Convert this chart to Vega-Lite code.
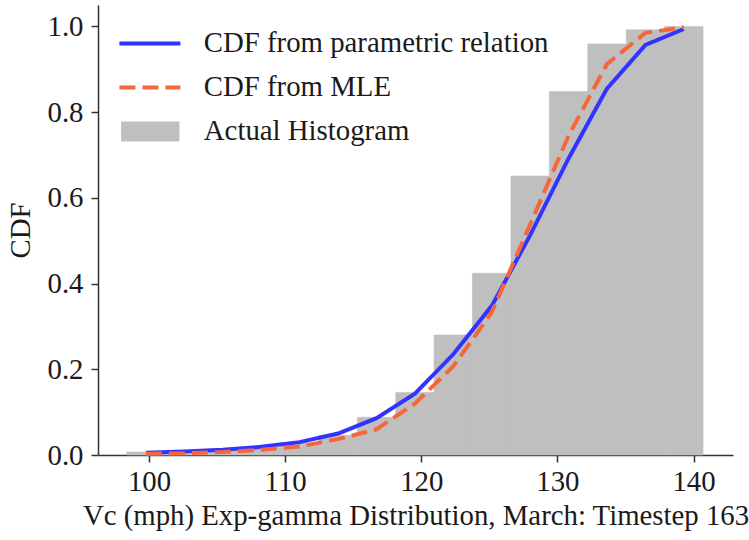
{
  "$schema": "https://vega.github.io/schema/vega-lite/v6.json",
  "width": 635,
  "height": 450,
  "autosize": {"type": "none"},
  "padding": {"left": 98, "top": 5, "right": 16, "bottom": 85},
  "background": "white",
  "config": {
    "view": {"stroke": null},
    "font": "Liberation Serif",
    "axis": {
      "grid": false,
      "domainColor": "#333333",
      "domainWidth": 1.5,
      "tickColor": "#333333",
      "tickWidth": 1.5,
      "tickSize": 7,
      "labelFont": "Liberation Serif",
      "labelFontSize": 28.8,
      "labelColor": "#1a1a1a",
      "titleFont": "Liberation Serif",
      "titleFontSize": 28.8,
      "titleFontWeight": "normal",
      "titleColor": "#1a1a1a"
    },
    "legend": {
      "labelFont": "Liberation Serif",
      "labelFontSize": 28.8,
      "labelColor": "#1a1a1a",
      "labelLimit": 0
    }
  },
  "datasets": {
    "hist": [
      {"start": 98.36, "end": 101.18, "cdf": 0.007, "series": "Actual Histogram"},
      {"start": 101.18, "end": 104.01, "cdf": 0.010, "series": "Actual Histogram"},
      {"start": 104.01, "end": 106.83, "cdf": 0.013, "series": "Actual Histogram"},
      {"start": 106.83, "end": 109.65, "cdf": 0.018, "series": "Actual Histogram"},
      {"start": 109.65, "end": 112.47, "cdf": 0.028, "series": "Actual Histogram"},
      {"start": 112.47, "end": 115.30, "cdf": 0.046, "series": "Actual Histogram"},
      {"start": 115.30, "end": 118.12, "cdf": 0.088, "series": "Actual Histogram"},
      {"start": 118.12, "end": 120.94, "cdf": 0.146, "series": "Actual Histogram"},
      {"start": 120.94, "end": 123.76, "cdf": 0.280, "series": "Actual Histogram"},
      {"start": 123.76, "end": 126.59, "cdf": 0.424, "series": "Actual Histogram"},
      {"start": 126.59, "end": 129.41, "cdf": 0.651, "series": "Actual Histogram"},
      {"start": 129.41, "end": 132.23, "cdf": 0.848, "series": "Actual Histogram"},
      {"start": 132.23, "end": 135.06, "cdf": 0.959, "series": "Actual Histogram"},
      {"start": 135.06, "end": 137.88, "cdf": 0.992, "series": "Actual Histogram"},
      {"start": 137.88, "end": 140.70, "cdf": 1.000, "series": "Actual Histogram"}
    ],
    "lines": [
      {"x": 99.77, "cdf": 0.005, "series": "CDF from parametric relation"},
      {"x": 102.60, "cdf": 0.008, "series": "CDF from parametric relation"},
      {"x": 105.42, "cdf": 0.012, "series": "CDF from parametric relation"},
      {"x": 108.24, "cdf": 0.019, "series": "CDF from parametric relation"},
      {"x": 111.06, "cdf": 0.030, "series": "CDF from parametric relation"},
      {"x": 113.89, "cdf": 0.050, "series": "CDF from parametric relation"},
      {"x": 116.71, "cdf": 0.086, "series": "CDF from parametric relation"},
      {"x": 119.53, "cdf": 0.143, "series": "CDF from parametric relation"},
      {"x": 122.35, "cdf": 0.235, "series": "CDF from parametric relation"},
      {"x": 125.18, "cdf": 0.348, "series": "CDF from parametric relation"},
      {"x": 128.00, "cdf": 0.513, "series": "CDF from parametric relation"},
      {"x": 130.82, "cdf": 0.692, "series": "CDF from parametric relation"},
      {"x": 133.64, "cdf": 0.855, "series": "CDF from parametric relation"},
      {"x": 136.47, "cdf": 0.957, "series": "CDF from parametric relation"},
      {"x": 139.29, "cdf": 0.994, "series": "CDF from parametric relation"},
      {"x": 99.77, "cdf": 0.003, "series": "CDF from MLE"},
      {"x": 102.60, "cdf": 0.004, "series": "CDF from MLE"},
      {"x": 105.42, "cdf": 0.007, "series": "CDF from MLE"},
      {"x": 108.24, "cdf": 0.012, "series": "CDF from MLE"},
      {"x": 111.06, "cdf": 0.020, "series": "CDF from MLE"},
      {"x": 113.89, "cdf": 0.037, "series": "CDF from MLE"},
      {"x": 116.71, "cdf": 0.060, "series": "CDF from MLE"},
      {"x": 119.53, "cdf": 0.120, "series": "CDF from MLE"},
      {"x": 122.35, "cdf": 0.207, "series": "CDF from MLE"},
      {"x": 125.18, "cdf": 0.333, "series": "CDF from MLE"},
      {"x": 128.00, "cdf": 0.538, "series": "CDF from MLE"},
      {"x": 130.82, "cdf": 0.745, "series": "CDF from MLE"},
      {"x": 133.64, "cdf": 0.912, "series": "CDF from MLE"},
      {"x": 136.47, "cdf": 0.985, "series": "CDF from MLE"},
      {"x": 139.29, "cdf": 0.998, "series": "CDF from MLE"}
    ]
  },
  "encoding": {
    "x": {
      "type": "quantitative",
      "scale": {"domain": [96.25, 142.9], "nice": false, "zero": false},
      "axis": {
        "title": "Vc (mph) Exp-gamma Distribution, March: Timestep 163",
        "values": [100, 110, 120, 130, 140],
        "labelPadding": 5,
        "titlePadding": 6
      }
    },
    "y": {
      "type": "quantitative",
      "scale": {"domain": [0, 1.05], "nice": false},
      "axis": {
        "title": "CDF",
        "values": [0, 0.2, 0.4, 0.6, 0.8, 1.0],
        "format": ".1f",
        "labelPadding": 8,
        "titlePadding": 12
      }
    },
    "color": {
      "field": "series",
      "type": "nominal",
      "scale": {
        "domain": ["CDF from parametric relation", "CDF from MLE", "Actual Histogram"],
        "range": ["#3333ff", "#f5673a", "#bfbfbf"]
      },
      "legend": {
        "title": null,
        "orient": "none",
        "legendX": 37,
        "legendY": 24,
        "padding": 0,
        "symbolSize": 400,
        "labelOffset": 40,
        "rowPadding": 14,
        "symbolStrokeWidth": 4,
        "symbolOpacity": 1,
        "encode": {
          "symbols": {
            "update": {
              "shape": {"signal": "datum.value === 'Actual Histogram' ? 'M-2.83,-1H3.0V1H-2.83Z' : 'M-3.0,0H3.1'"},
              "fill": {"signal": "datum.value === 'Actual Histogram' ? '#bfbfbf' : 'transparent'"},
              "stroke": {"signal": "datum.value === 'CDF from parametric relation' ? '#3333ff' : (datum.value === 'CDF from MLE' ? '#f5673a' : 'transparent')"},
              "strokeDash": {"signal": "datum.value === 'CDF from MLE' ? [16, 7] : [1000, 0]"},
              "strokeWidth": {"signal": "datum.value === 'Actual Histogram' ? 0 : 4"},
              "opacity": {"value": 1}
            }
          }
        }
      }
    }
  },
  "layer": [
    {
      "data": {"name": "hist"},
      "mark": {"type": "rect", "opacity": 1, "stroke": "#bfbfbf", "strokeWidth": 0.6},
      "encoding": {
        "x": {"field": "start", "type": "quantitative"},
        "x2": {"field": "end"},
        "y": {"field": "cdf", "type": "quantitative"},
        "y2": {"datum": 0}
      }
    },
    {
      "data": {"name": "lines"},
      "transform": [{"filter": "datum.series === 'CDF from parametric relation'"}],
      "mark": {"type": "line", "strokeWidth": 4},
      "encoding": {
        "x": {"field": "x", "type": "quantitative"},
        "y": {"field": "cdf", "type": "quantitative"}
      }
    },
    {
      "data": {"name": "lines"},
      "transform": [{"filter": "datum.series === 'CDF from MLE'"}],
      "mark": {"type": "line", "strokeWidth": 4, "strokeDash": [16, 7]},
      "encoding": {
        "x": {"field": "x", "type": "quantitative"},
        "y": {"field": "cdf", "type": "quantitative"}
      }
    }
  ]
}
